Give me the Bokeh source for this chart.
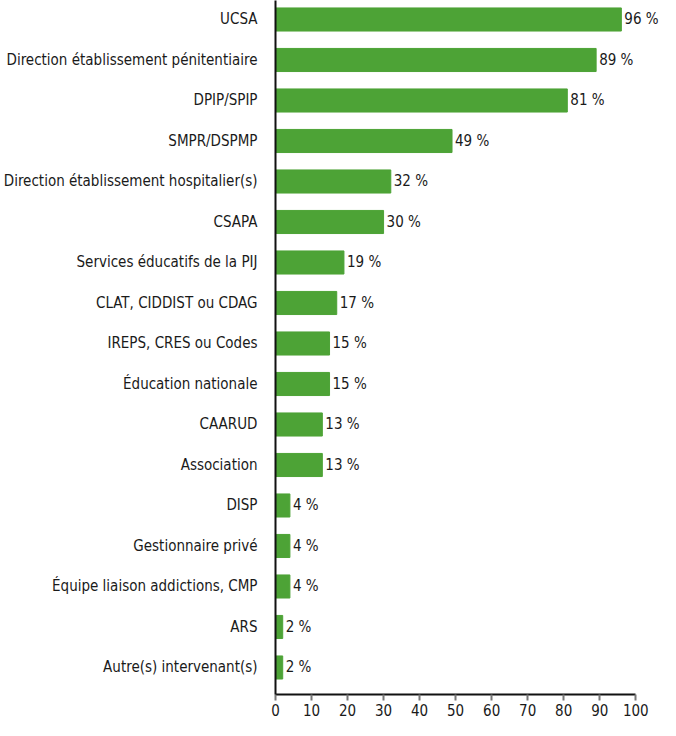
from bokeh.plotting import figure
from bokeh.models import Range1d, FixedTicker, ColumnDataSource
from bokeh.core.properties import value
from bokeh.embed import file_html
from bokeh.resources import INLINE

categories = [
    "UCSA",
    "Direction établissement pénitentiaire",
    "DPIP/SPIP",
    "SMPR/DSPMP",
    "Direction établissement hospitalier(s)",
    "CSAPA",
    "Services éducatifs de la PIJ",
    "CLAT, CIDDIST ou CDAG",
    "IREPS, CRES ou Codes",
    "Éducation nationale",
    "CAARUD",
    "Association",
    "DISP",
    "Gestionnaire privé",
    "Équipe liaison addictions, CMP",
    "ARS",
    "Autre(s) intervenant(s)",
]
values = [96, 89, 81, 49, 32, 30, 19, 17, 15, 15, 13, 13, 4, 4, 4, 2, 2]
x_ticks = [0, 10, 20, 30, 40, 50, 60, 70, 80, 90, 100]

FONT = "DejaVu Sans Condensed"
GREEN = "#4da336"

pos = list(range(len(categories)))
labels = [f"{v} %" for v in values]
src = ColumnDataSource(dict(y=pos, v=values, lab=labels))

# frame: left at 271, 100 -> 635 (3.64 px/unit), frame right edge at 660
p = figure(width=660, height=720, output_backend="svg", toolbar_location=None,
           x_range=Range1d(0, 389 / 3.64), y_range=Range1d(16.667, -0.469),
           min_border_left=271, min_border_right=0, min_border_top=0, min_border_bottom=26)
p.outline_line_color = None
p.xgrid.grid_line_color = None
p.ygrid.grid_line_color = None

p.hbar(y="y", right="v", left=0, height=0.57, source=src, color=GREEN)
p.text(x="v", y="y", text="lab", source=src, x_offset=3, text_baseline="middle",
       text_align="left", text_font=value(FONT), text_font_size="15px", text_color="#1a1a1a")

p.xaxis.ticker = FixedTicker(ticks=x_ticks)
p.xaxis.bounds = (0, 100)
p.xaxis.axis_line_color = "#111111"
p.xaxis.axis_line_width = 2
p.xaxis.major_tick_line_color = "#777777"
p.xaxis.major_tick_line_width = 2
p.xaxis.major_tick_out = 6
p.xaxis.major_tick_in = 0
p.xaxis.minor_tick_line_color = None
p.xaxis.major_label_text_font = FONT
p.xaxis.major_label_text_font_size = "15px"
p.xaxis.major_label_text_color = "#1a1a1a"
p.xaxis.major_label_standoff = 3

p.yaxis.ticker = FixedTicker(ticks=pos)
p.yaxis.major_label_overrides = {i: c for i, c in enumerate(categories)}
p.yaxis.axis_line_color = "#111111"
p.yaxis.axis_line_width = 2
p.yaxis.major_tick_line_color = None
p.yaxis.minor_tick_line_color = None
p.yaxis.major_label_text_font = FONT
p.yaxis.major_label_text_font_size = "15px"
p.yaxis.major_label_text_color = "#1a1a1a"
p.yaxis.major_label_standoff = 12

open("out.html", "w").write(file_html(p, INLINE))
